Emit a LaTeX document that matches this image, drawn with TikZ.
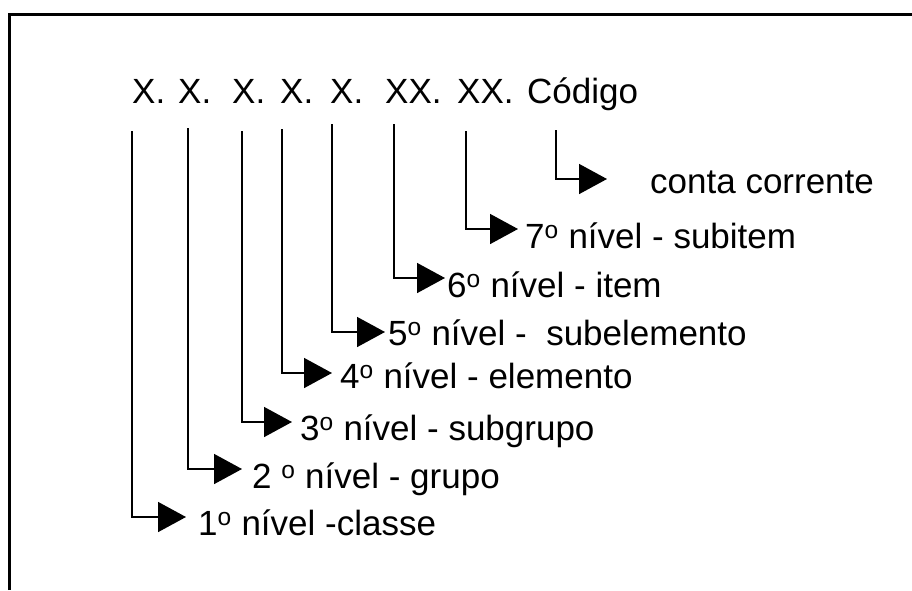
\documentclass[tikz,border=0pt]{standalone}
\usepackage{fontspec}
\setmainfont{Liberation Sans}
\usetikzlibrary{arrows.meta}
\newcommand{\nord}{\textsuperscript{o}}
\tikzset{
  campo/.style={anchor=base west, inner sep=0pt, font=\fontsize{35}{42}\selectfont},
  nivel/.style={anchor=base west, inner sep=0pt, font=\fontsize{35}{42}\selectfont},
  haste/.style={line width=1.6pt, -{Triangle[length=28pt,width=30pt]}},
}
\begin{document}
\begin{tikzpicture}[x=1pt,y=-1pt]
                \useasboundingbox (0,0) rectangle (912,590);
                % moldura (so topo e lado esquerdo)
                \draw[line width=3pt] (9,590) -- (9,14) -- (912,14);
                % campos do codigo
                \node[campo] (c1) at (132,103) {X.};
                \node[campo] (c2) at (178,103) {X.};
                \node[campo] (c3) at (232,103) {X.};
                \node[campo] (c4) at (280,103) {X.};
                \node[campo] (c5) at (330,103) {X.};
                \node[campo] (c6) at (385,103) {XX.};
                \node[campo] (c7) at (457,103) {XX.};
                \node[campo] (cod) at (527,103) {Código};
                % niveis
                \node[nivel] (n1) at (198,535) {1\nord\ nível -classe};
                \node[nivel] (n2) at (252,488) {2 \nord\ nível - grupo};
                \node[nivel] (n3) at (300,440) {3\nord\ nível - subgrupo};
                \node[nivel] (n4) at (340,388) {4\nord\ nível - elemento};
                \node[nivel] (n5) at (388,345) {5\nord\ nível -\ \ subelemento};
                \node[nivel] (n6) at (447,297) {6\nord\ nível - item};
                \node[nivel] (n7) at (525,248) {7\nord\ nível - subitem};
                \node[nivel] (cc) at (650,193) {conta corrente};
                % topo das hastes e pontas das setas
                \coordinate (s1) at (132,131); \coordinate (t1) at (186,517);
                \coordinate (s2) at (188,128); \coordinate (t2) at (242,469);
                \coordinate (s3) at (242,131); \coordinate (t3) at (292,422);
                \coordinate (s4) at (282,129); \coordinate (t4) at (332,373);
                \coordinate (s5) at (332,124); \coordinate (t5) at (385,332);
                \coordinate (s6) at (394,124); \coordinate (t6) at (445,278);
                \coordinate (s7) at (466,131); \coordinate (t7) at (518,229);
                \coordinate (s8) at (556,130); \coordinate (t8) at (607,179);
                \draw[haste] (s1) |- (t1);
                \draw[haste] (s2) |- (t2);
                \draw[haste] (s3) |- (t3);
                \draw[haste] (s4) |- (t4);
                \draw[haste] (s5) |- (t5);
                \draw[haste] (s6) |- (t6);
                \draw[haste] (s7) |- (t7);
                \draw[haste] (s8) |- (t8);
            \end{tikzpicture}
\end{document}
